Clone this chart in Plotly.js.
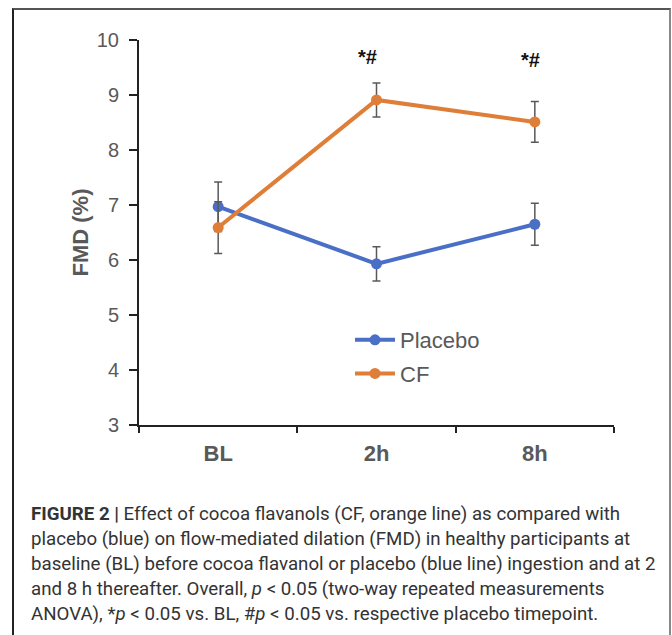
<!DOCTYPE html>
<html>
<head>
<meta charset="utf-8">
<script src="https://cdn.plot.ly/plotly-3.0.1.min.js"></script>
<style>
  html, body { margin: 0; padding: 0; background: #fff; }
  #wrap { position: relative; width: 672px; height: 635px; overflow: hidden; }
  #frame { position: absolute; left: 12px; top: 8px; width: 655px; height: 700px;
           border-left: 2px solid #222; border-top: 2px solid #555; border-right: 2px solid #888;
           pointer-events: none; z-index: 5; }
  #chart { position: absolute; left: 0; top: 0; width: 672px; height: 635px; }
</style>
</head>
<body>
<div id="wrap">
  <div id="chart"></div>
  <div id="frame"></div>
</div>
<script>
// ---- data ----
const timepoints = ["BL", "2h", "8h"];
const placeboFMD = [6.97, 5.93, 6.65];
const placeboErr = [0.45, 0.31, 0.38];
const cfFMD = [6.59, 8.91, 8.51];
const cfErr = [0.47, 0.31, 0.37];
const sigLabels = ["", "*#", "*#"];
const sigY = [null, 9.69, 9.64];
const captionLines = [
  "<b>FIGURE 2 |</b> Effect of cocoa flavanols (CF, orange line) as compared with",
  "placebo (blue) on flow-mediated dilation (FMD) in healthy participants at",
  "baseline (BL) before cocoa flavanol or placebo (blue line) ingestion and at 2",
  "and 8 h thereafter. Overall, <i>p</i> &lt; 0.05 (two-way repeated measurements",
  "ANOVA), *<i>p</i> &lt; 0.05 vs. BL, #<i>p</i> &lt; 0.05 vs. respective placebo timepoint."
];

const BLUE = "#4A6FC6";
const ORANGE = "#DE7E38";
const GRAY = "#595959";
const FONT = "Liberation Sans, Arial, sans-serif";
const CAPFONT = "Roboto, Liberation Sans, Arial, sans-serif";

const traces = [
  {
    x: timepoints, y: placeboFMD, name: "Placebo", type: "scatter", mode: "lines+markers",
    line: { color: BLUE, width: 4 }, marker: { color: BLUE, size: 11 },
    error_y: { type: "data", array: placeboErr, visible: true, color: GRAY, thickness: 1.5, width: 4 },
    legendgroup: "a"
  },
  {
    x: timepoints, y: cfFMD, name: "CF", type: "scatter", mode: "lines+markers",
    line: { color: ORANGE, width: 4 }, marker: { color: ORANGE, size: 11 },
    error_y: { type: "data", array: cfErr, visible: true, color: GRAY, thickness: 1.5, width: 4 },
    legendgroup: "b"
  }
];

const annotations = [];
timepoints.forEach((t, i) => {
  if (sigLabels[i]) {
    annotations.push({
      x: t, y: sigY[i], xref: "x", yref: "y", text: "<b>" + sigLabels[i] + "</b>", showarrow: false,
      xshift: i === 1 ? -9 : -4,
      font: { family: FONT, size: 20, color: "#111" }
    });
  }
});
const capTop = 514, capStep = 25;
captionLines.forEach((ln, i) => {
  annotations.push({
    x: (29 - 139) / 475, y: (425 - (capTop + i * capStep)) / 385, xref: "paper", yref: "paper",
    xanchor: "left", yanchor: "middle", text: ln, showarrow: false, align: "left",
    font: { family: CAPFONT, size: 18.7, color: "#333" }
  });
});

const layout = {
  width: 672, height: 635,
  margin: { l: 139, r: 58, t: 40, b: 210 },
  paper_bgcolor: "#fff", plot_bgcolor: "#fff",
  showlegend: true,
  legend: {
    x: (350 - 139) / 475, xanchor: "left", y: (425 - 319) / 385, yanchor: "top",
    font: { family: FONT, size: 22, color: GRAY }, bgcolor: "rgba(0,0,0,0)",
    traceorder: "grouped", tracegroupgap: 2, itemwidth: 40
  },
  xaxis: {
    type: "category", range: [-0.5, 2.5], showgrid: false, zeroline: false,
    showline: true, linecolor: "#222", linewidth: 2,
    ticks: "outside", tickson: "boundaries", ticklen: 6, tickwidth: 2, tickcolor: "#222",
    tickfont: { family: FONT, size: 22, color: GRAY, weight: "bold" },
    ticklabelstandoff: 8
  },
  yaxis: {
    range: [3, 10], dtick: 1, tick0: 3, showgrid: false, zeroline: false,
    showline: true, linecolor: "#222", linewidth: 2,
    ticks: "outside", ticklen: 8, tickwidth: 2, tickcolor: "#222",
    tickfont: { family: FONT, size: 20, color: GRAY },
    ticklabelstandoff: 6,
    title: { text: "FMD (%)", font: { family: FONT, size: 22, color: GRAY, weight: "bold" }, standoff: 2 }
  },
  annotations: annotations
};

Plotly.newPlot("chart", traces, layout, { displayModeBar: false, staticPlot: true });
</script>
</body>
</html>
